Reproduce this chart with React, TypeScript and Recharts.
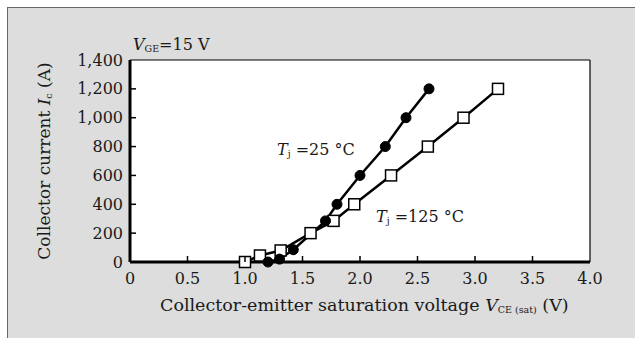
import { LineChart, Line, XAxis, YAxis, ReferenceLine } from 'recharts';

// Collector current vs collector-emitter saturation voltage
const tj25Vce = [1.2, 1.3, 1.42, 1.7, 1.8, 2.0, 2.22, 2.4, 2.6];
const tj25Ic = [0, 20, 85, 285, 400, 600, 800, 1000, 1200];
const tj125Vce = [1.0, 1.13, 1.31, 1.57, 1.77, 1.95, 2.27, 2.59, 2.9, 3.2];
const tj125Ic = [0, 45, 80, 200, 285, 400, 600, 800, 1000, 1200];
const xTicks = [0, 0.5, 1.0, 1.5, 2.0, 2.5, 3.0, 3.5, 4.0];
const yTicks = [0, 200, 400, 600, 800, 1000, 1200, 1400];

const data25 = tj25Vce.map((v, i) => ({ v, ic: tj25Ic[i] }));
const data125 = tj125Vce.map((v, i) => ({ v, ic: tj125Ic[i] }));

const FONT = '"DejaVu Serif", "Liberation Serif", serif';

const CircleDot = (props: any) => {
  const { cx, cy } = props;
  return <circle cx={cx} cy={cy} r={5} fill="#000" stroke="#000" />;
};

const SquareDot = (props: any) => {
  const { cx, cy } = props;
  return (
    <rect x={cx - 5.5} y={cy - 5.5} width={11} height={11} fill="#fff" stroke="#000" strokeWidth={1.5} />
  );
};

// ticks point inward, labels sit outside
const YTick = (props: any) => {
  const { x, y, payload } = props;
  return (
    <g>
      {payload.value !== 0 && payload.value !== 1400 && (
        <line x1={x} y1={y} x2={x + 6} y2={y} stroke="#000" strokeWidth={1.5} />
      )}
      <text x={x - 7} y={y} dy={5.5} textAnchor="end" fontFamily={FONT} fontSize={16} fill="#1a1a1a">
        {payload.value.toLocaleString('en-US')}
      </text>
    </g>
  );
};

const XTick = (props: any) => {
  const { x, y, payload } = props;
  return (
    <g>
      {payload.value !== 0 && payload.value !== 4 && (
        <line x1={x} y1={y} x2={x} y2={y - 6} stroke="#000" strokeWidth={1.5} />
      )}
      <text x={x} y={y + 22} textAnchor="middle" fontFamily={FONT} fontSize={16} fill="#1a1a1a">
        {payload.value === 0 ? '0' : payload.value.toFixed(1)}
      </text>
    </g>
  );
};

const txt: React.CSSProperties = {
  position: 'absolute',
  fontFamily: FONT,
  fontSize: 16,
  color: '#1a1a1a',
  whiteSpace: 'nowrap',
  lineHeight: 1,
};
const sub: React.CSSProperties = { fontSize: 9.5, fontStyle: 'normal', verticalAlign: -2 };

export default function App() {
  return (
    <div style={{ position: 'absolute', left: 0, top: 0, width: 635, height: 338, background: '#fff' }}>
      <div
        style={{
          position: 'absolute',
          left: 7,
          top: 7,
          width: 628,
          height: 331,
          background: '#dcdddc',
          borderTop: '1.5px solid #666',
          borderLeft: '1.5px solid #666',
          boxSizing: 'border-box',
        }}
      />
      <div style={{ position: 'absolute', left: 130, top: 60, width: 460, height: 202, background: '#fff' }} />
      <div style={{ position: 'absolute', left: 0, top: 0 }}>
        <LineChart width={635} height={338} margin={{ top: 60, right: 45, bottom: 46, left: 70 }}>
          <XAxis
            type="number"
            dataKey="v"
            domain={[0, 4]}
            ticks={xTicks}
            allowDuplicatedCategory={false}
            axisLine={{ stroke: '#000', strokeWidth: 3 }}
            tickLine={false}
            tickSize={0}
            tickMargin={0}
            height={30}
            tick={<XTick />}
            interval={0}
          />
          <YAxis
            type="number"
            dataKey="ic"
            domain={[0, 1400]}
            ticks={yTicks}
            axisLine={{ stroke: '#000', strokeWidth: 3 }}
            tickLine={false}
            tickSize={0}
            tickMargin={0}
            width={60}
            tick={<YTick />}
            interval={0}
          />
          <ReferenceLine y={1400} stroke="#000" strokeWidth={1.2} />
          <ReferenceLine x={4} stroke="#000" strokeWidth={1.2} />
          <Line
            data={data125}
            dataKey="ic"
            stroke="#000"
            strokeWidth={2.5}
            dot={<SquareDot />}
            isAnimationActive={false}
          />
          <Line
            data={data25}
            dataKey="ic"
            stroke="#000"
            strokeWidth={2.5}
            dot={<CircleDot />}
            isAnimationActive={false}
          />
        </LineChart>
      </div>
      <div style={{ ...txt, left: 133, top: 37 }}>
        <i>V</i>
        <span style={sub}>GE</span>=15 V
      </div>
      <div style={{ ...txt, left: 277, top: 142 }}>
        <i>T</i>
        <span style={sub}>j</span>
        {' =25 °C'}
      </div>
      <div style={{ ...txt, left: 376, top: 209 }}>
        <i>T</i>
        <span style={sub}>j</span>
        {' =125 °C'}
      </div>
      <div style={{ ...txt, left: 160, top: 297, fontSize: 17.5 }}>
        Collector-emitter saturation voltage <i>V</i>
        <span style={sub}>CE (sat)</span> (V)
      </div>
      <div
        style={{
          ...txt,
          left: 45,
          top: 161,
          fontSize: 17,
          transform: 'translate(-50%, -50%) rotate(-90deg)',
        }}
      >
        Collector current <i>I</i>
        <span style={sub}>c</span> (A)
      </div>
    </div>
  );
}
